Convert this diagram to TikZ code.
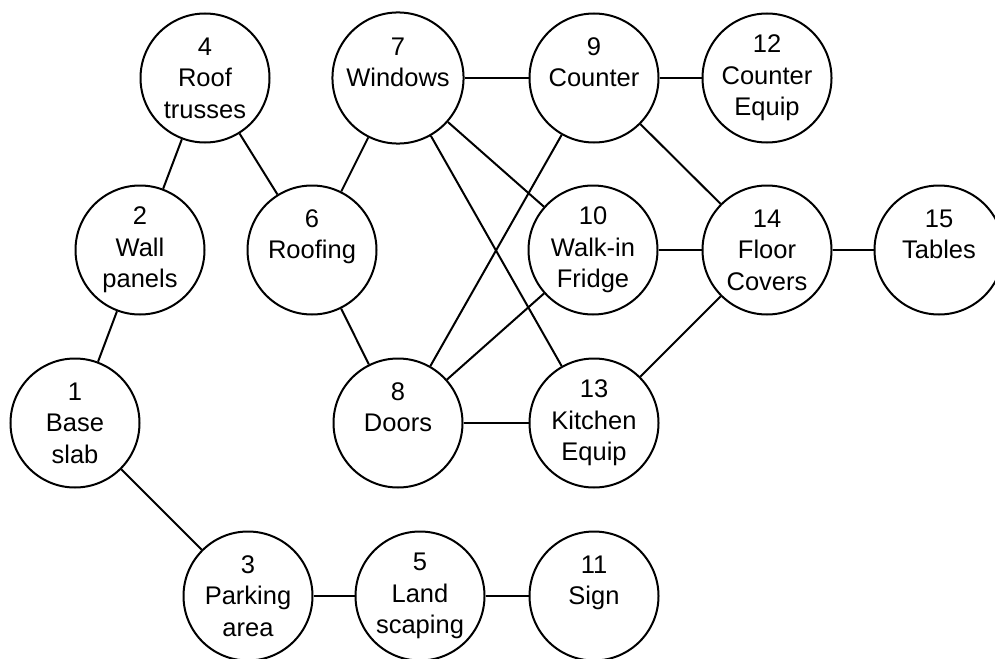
\documentclass[tikz,border=0pt]{standalone}
\usepackage{fontspec}
\setmainfont{Liberation Sans}
\begin{document}
\begin{tikzpicture}[x=1pt,y=-1pt,
  circ/.style={circle,draw=black,line width=2pt,minimum size=129pt,inner sep=0pt,
    align=center,font=\fontsize{25.5pt}{31.5pt}\selectfont},
  edge/.style={line width=2pt}]
\useasboundingbox (0,0) rectangle (995,658);
\clip (0,0) rectangle (995,658);
\node[circ] (n4) at (205,78) {4\\Roof\\trusses};
\node[circ] (n7) at (398,78) {7\\Windows\\~};
\node[circ] (n9) at (594,78) {9\\Counter\\~};
\node[circ] (n12) at (767,78) {12\\Counter\\Equip};
\node[circ] (n2) at (140,250) {2\\Wall\\panels};
\node[circ] (n6) at (312,250) {6\\Roofing\\~};
\node[circ] (n10) at (593,250) {10\\Walk-in\\Fridge};
\node[circ] (n14) at (767,250) {14\\Floor\\Covers};
\node[circ] (n15) at (939,250) {15\\Tables\\~};
\node[circ] (n1) at (75,423) {1\\Base\\slab};
\node[circ] (n8) at (398,423) {8\\Doors\\~};
\node[circ] (n13) at (594,423) {13\\Kitchen\\Equip};
\node[circ] (n3) at (248,596) {3\\Parking\\area};
\node[circ] (n5) at (420,596) {5\\Land\\scaping};
\node[circ] (n11) at (594,596) {11\\Sign\\~};
\draw[edge] (n4) -- (n2);
\draw[edge] (n4) -- (n6);
\draw[edge] (n7) -- (n6);
\draw[edge] (n7) -- (n9);
\draw[edge] (n7) -- (n10);
\draw[edge] (n7) -- (n13);
\draw[edge] (n9) -- (n12);
\draw[edge] (n9) -- (n8);
\draw[edge] (n9) -- (n14);
\draw[edge] (n2) -- (n1);
\draw[edge] (n6) -- (n8);
\draw[edge] (n10) -- (n14);
\draw[edge] (n10) -- (n8);
\draw[edge] (n14) -- (n15);
\draw[edge] (n14) -- (n13);
\draw[edge] (n8) -- (n13);
\draw[edge] (n1) -- (n3);
\draw[edge] (n3) -- (n5);
\draw[edge] (n5) -- (n11);
\end{tikzpicture}
\end{document}
